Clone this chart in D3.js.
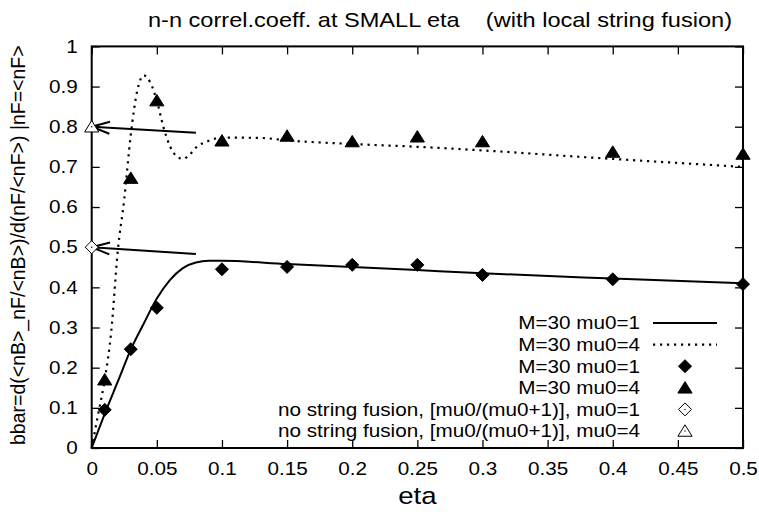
<!DOCTYPE html>
<html><head><meta charset="utf-8">
<script src="https://cdn.jsdelivr.net/npm/d3@7"></script>
<style>body{margin:0;background:#fff}svg{display:block}text{font-family:"Liberation Sans",Arial,sans-serif;fill:#000}</style>
</head><body>
<svg id="c" width="759" height="514"></svg>
<script>
// ---- data ----
const etaPts = [0.01, 0.03, 0.05, 0.1, 0.15, 0.2, 0.25, 0.3, 0.4, 0.5];
const mc_mu1 = [0.095, 0.246, 0.349, 0.445, 0.451, 0.456, 0.456, 0.431, 0.42, 0.408];
const mc_mu4 = [0.17, 0.672, 0.865, 0.765, 0.777, 0.763, 0.775, 0.763, 0.737, 0.732];
const curveEta1 = [0, 0.01, 0.02, 0.03, 0.04, 0.05, 0.06, 0.07, 0.08, 0.09, 0.1, 0.15, 0.2, 0.25, 0.3, 0.4, 0.5];
const curveVal1 = [0, 0.085, 0.165, 0.245, 0.31, 0.372, 0.418, 0.448, 0.462, 0.466, 0.466, 0.458, 0.451, 0.443, 0.435, 0.422, 0.41];
const curveEta4 = [0, 0.005, 0.01, 0.015, 0.02, 0.025, 0.03, 0.035, 0.04, 0.045, 0.05, 0.055, 0.06, 0.065, 0.07, 0.075, 0.08, 0.09, 0.1, 0.13, 0.15, 0.2, 0.25, 0.3, 0.375, 0.5];
const curveVal4 = [0, 0.085, 0.17, 0.29, 0.49, 0.62, 0.78, 0.89, 0.928, 0.91, 0.865, 0.8, 0.752, 0.727, 0.72, 0.73, 0.748, 0.765, 0.773, 0.772, 0.766, 0.757, 0.75, 0.741, 0.725, 0.70];
const noFusion = [{mu0: 1, v: 0.5}, {mu0: 4, v: 0.8}];
const arrowFrom = [0.08, 0.08];
const arrowFromV = [0.483, 0.785];
const xTicks = [0, 0.05, 0.1, 0.15, 0.2, 0.25, 0.3, 0.35, 0.4, 0.45, 0.5];
const yTicks = [0, 0.1, 0.2, 0.3, 0.4, 0.5, 0.6, 0.7, 0.8, 0.9, 1];
const legendLabels = ["M=30 mu0=1", "M=30 mu0=4", "M=30 mu0=1", "M=30 mu0=4",
  "no string fusion, [mu0/(mu0+1)], mu0=1", "no string fusion, [mu0/(mu0+1)], mu0=4"];
const titleText = "n-n correl.coeff. at SMALL eta    (with local string fusion)";
const xLabel = "eta";
const yLabel = "bbar=d(<nB>_nF/<nB>)/d(nF/<nF>) |nF=<nF>";

// ---- layout ----
const L = 91.7, R = 743, T = 46.4, B = 448;
const SX = 1.15; // horizontal stretch of glyphs (reference is a non-uniformly resized raster)
const svg = d3.select("#c");
const x = d3.scaleLinear().domain([0, 0.5]).range([L, R]);
const y = d3.scaleLinear().domain([0, 1]).range([B, T]);
const tickLen = 8;
const fs = 18;

function stretch(sel) {
  sel.each(function () {
    const t = d3.select(this);
    const tx = +t.attr("x") || 0, ty = +t.attr("y") || 0;
    t.attr("x", 0).attr("y", 0).attr("transform", `translate(${tx},${ty}) scale(${SX},1)`);
  });
}

svg.append("g").attr("transform", `translate(0,${B})`)
  .call(d3.axisBottom(x).tickValues(xTicks).tickSizeInner(-tickLen).tickSizeOuter(0).tickPadding(14).tickFormat(d3.format("")))
  .call(g => { g.select(".domain").remove(); g.selectAll("text").attr("font-size", fs).attr("font-family", "Liberation Sans").call(stretch); g.selectAll("line").attr("stroke-width", 1.3); });
svg.append("g").attr("transform", `translate(0,${T})`)
  .call(d3.axisTop(x).tickValues(xTicks).tickSizeInner(-tickLen).tickSizeOuter(0).tickFormat(""))
  .call(g => { g.select(".domain").remove(); g.selectAll("line").attr("stroke-width", 1.3); });
svg.append("g").attr("transform", `translate(${L},0)`)
  .call(d3.axisLeft(y).tickValues(yTicks).tickSizeInner(-tickLen).tickSizeOuter(0).tickPadding(14).tickFormat(d3.format("")))
  .call(g => { g.select(".domain").remove(); g.selectAll("text").attr("font-size", fs).attr("font-family", "Liberation Sans").call(stretch); g.selectAll("line").attr("stroke-width", 1.3); });
svg.append("g").attr("transform", `translate(${R},0)`)
  .call(d3.axisRight(y).tickValues(yTicks).tickSizeInner(-tickLen).tickSizeOuter(0).tickFormat(""))
  .call(g => { g.select(".domain").remove(); g.selectAll("line").attr("stroke-width", 1.3); });
svg.append("rect").attr("x", L).attr("y", T).attr("width", R - L).attr("height", B - T)
  .attr("fill", "none").attr("stroke", "#000").attr("stroke-width", 2);

// curves
const line = d3.line().x(d => x(d[0])).y(d => y(d[1])).curve(d3.curveMonotoneX);
svg.append("path").datum(d3.zip(curveEta1, curveVal1)).attr("d", line)
  .attr("fill", "none").attr("stroke", "#000").attr("stroke-width", 2);
svg.append("path").datum(d3.zip(curveEta4, curveVal4)).attr("d", line)
  .attr("fill", "none").attr("stroke", "#000").attr("stroke-width", 2.2).attr("stroke-dasharray", "2.2,4.8");

// arrows
noFusion.forEach((d, i) => {
  const x0 = x(arrowFrom[i]), y0 = y(arrowFromV[i]), x1 = x(0), y1 = y(d.v);
  const ang = Math.atan2(y0 - y1, x0 - x1);
  const hl = 19, ha = 0.32;
  svg.append("line").attr("x1", x0).attr("y1", y0).attr("x2", x1).attr("y2", y1)
    .attr("stroke", "#000").attr("stroke-width", 2);
  svg.append("path").attr("d", `M${x1 + hl*Math.cos(ang+ha)},${y1 + hl*Math.sin(ang+ha)}L${x1},${y1}L${x1 + hl*Math.cos(ang-ha)},${y1 + hl*Math.sin(ang-ha)}`)
    .attr("fill", "none").attr("stroke", "#000").attr("stroke-width", 2);
});

// markers
const diamond = s => `M0,${-s}L${s},0L0,${s}L${-s},0Z`;
const triangle = s => `M0,${-s}L${s*1.15},${s*0.85}L${-s*1.15},${s*0.85}Z`;
const mk = 6.5;
function drawMarker(g, type, filled) {
  g.append("path").attr("d", type === "d" ? diamond(mk) : triangle(mk*0.95))
    .attr("fill", filled ? "#000" : "#fff").attr("stroke", "#000").attr("stroke-width", 1);
  if (!filled) g.append("circle").attr("r", 0.7).attr("fill", "#000");
}
etaPts.forEach((e, i) => {
  drawMarker(svg.append("g").attr("transform", `translate(${x(e)},${y(mc_mu1[i])})`), "d", true);
  drawMarker(svg.append("g").attr("transform", `translate(${x(e)},${y(mc_mu4[i])})`), "t", true);
});
noFusion.forEach(d => {
  drawMarker(svg.append("g").attr("transform", `translate(${x(0)},${y(d.v)})`), d.mu0 === 1 ? "d" : "t", false);
});

// legend
const legX = 640, legY0 = 323, legDy = 21.6, sx0 = 653, sx1 = 717;
legendLabels.forEach((t, i) => {
  const yy = legY0 + i * legDy;
  svg.append("text").attr("x", legX).attr("y", yy).attr("dy", "0.35em").attr("text-anchor", "end")
    .attr("font-size", fs).text(t).call(stretch);
  if (i === 0) svg.append("line").attr("x1", sx0).attr("x2", sx1).attr("y1", yy).attr("y2", yy).attr("stroke", "#000").attr("stroke-width", 2);
  else if (i === 1) svg.append("line").attr("x1", sx0).attr("x2", sx1).attr("y1", yy).attr("y2", yy).attr("stroke", "#000").attr("stroke-width", 2.2).attr("stroke-dasharray", "2.2,4.8");
  else drawMarker(svg.append("g").attr("transform", `translate(${(sx0 + sx1) / 2},${yy})`), (i === 2 || i === 4) ? "d" : "t", i < 4);
});

// titles
svg.append("text").attr("x", 440).attr("y", 20).attr("dy", "0.35em").attr("text-anchor", "middle").attr("font-size", 20.5).style("white-space", "pre").text(titleText).call(stretch);
svg.append("text").attr("x", (L + R) / 2).attr("y", 496).attr("dy", "0.35em").attr("text-anchor", "middle").attr("font-size", 24).text(xLabel).call(stretch);
svg.append("text").attr("transform", `translate(18,${(T + B) / 2 - 2}) rotate(-90)`).attr("dy", "0.35em").attr("text-anchor", "middle").attr("font-size", 19.5).text(yLabel);
</script>
</body></html>
